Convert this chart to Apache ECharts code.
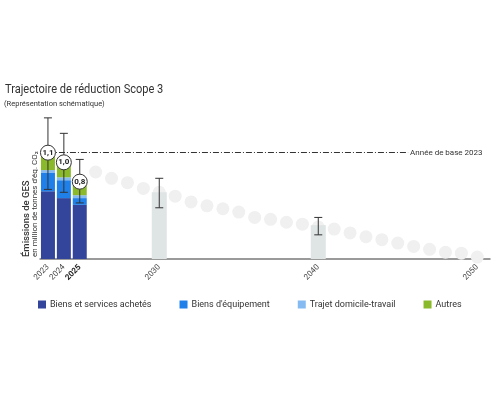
<!DOCTYPE html>
<html><head><meta charset="utf-8">
<script src="https://cdn.jsdelivr.net/npm/echarts@6/dist/echarts.min.js"></script>
<style>html,body{margin:0;padding:0;background:#fff}#c{width:500px;height:400px}</style>
</head><body><div id="c"></div>
<script>
// ---- data ----
const years = [2023, 2024, 2025];
const biensServices = [0.70, 0.63, 0.56];
const biensEquipement = [0.19, 0.185, 0.07];
const trajet = [0.03, 0.03, 0.03];
const autres = [0.18, 0.155, 0.14];
const totals = [1.1, 1.0, 0.8];
const errLow = [0.72, 0.69, 0.58];
const errHigh = [1.46, 1.30, 1.03];
const targetYears = [2030, 2040];
const targetValues = [0.69, 0.35];
const targetErrLow = [0.53, 0.25];
const targetErrHigh = [0.835, 0.43];
const pathYears = [2026,2027,2028,2029,2030,2031,2032,2033,2034,2035,2036,2037,2038,2039,2040,2041,2042,2043,2044,2045,2046,2047,2048,2049,2050];
const pathValues = [0.90,0.835,0.79,0.73,0.69,0.65,0.59,0.55,0.52,0.485,0.43,0.41,0.38,0.36,0.33,0.31,0.27,0.23,0.20,0.165,0.13,0.10,0.07,0.06,0.02];
const tickYears = [2023, 2024, 2025, 2030, 2040, 2050];
const baseYearValue = 1.1;
const baseLineEnd = 2045.65;
const seriesNames = ['Biens et services achetés', "Biens d'équipement", 'Trajet domicile-travail', 'Autres'];
const titleText = 'Trajectoire de réduction Scope 3';
const subtitleText = '(Représentation schématique)';
const axisName1 = 'Émissions de GES';
const axisName2 = "en million de tonnes d'éq. CO₂";
const baseLabel = 'Année de base 2023';

const FONT = 'Roboto';
const colors = ['#33459b', '#1f80ea', '#85bbf1', '#8bb92c'];
const pair = (xs, ys) => xs.map((x, i) => [x, ys[i]]);

const errData = pair(years, errLow).map((d, i) => [d[0], d[1], errHigh[i]])
  .concat(pair(targetYears, targetErrLow).map((d, i) => [d[0], d[1], targetErrHigh[i]]));

// axis geometry: value axis from 2022.5 to 2050.8 over the main grid
const X_MIN = 2022.5, X_MAX = 2050.8, G_LEFT = 40, G_RIGHT = 10;
const pxPerYear = (500 - G_LEFT - G_RIGHT) / (X_MAX - X_MIN);

const chart = echarts.init(document.getElementById('c'));
const stackSeries = [biensServices, biensEquipement, trajet, autres].map((arr, i) => ({
  name: seriesNames[i], type: 'bar', stack: 'tot', barWidth: 14,
  xAxisIndex: 1, yAxisIndex: 1,
  data: arr, itemStyle: { color: colors[i] }, z: 3
}));

chart.setOption({
  animation: false,
  legend: {
    data: seriesNames, left: 33, top: 295, itemWidth: 8, itemHeight: 8, itemGap: 28, icon: 'rect',
    textStyle: { fontFamily: FONT, fontSize: 9, color: '#333', padding: [0, 0, 0, -1] }
  },
  grid: [
    { left: G_LEFT, right: G_RIGHT, top: 114, bottom: 141 },
    { left: G_LEFT, width: pxPerYear * years.length, top: 114, bottom: 141 }
  ],
  xAxis: [{
    type: 'value', min: X_MIN, max: X_MAX,
    axisLine: { show: true, lineStyle: { color: '#7a7a7a', width: 1.5 } },
    axisTick: { show: false }, splitLine: { show: false },
    axisLabel: {
      customValues: tickYears, rotate: 45, fontSize: 8, fontFamily: FONT, color: '#444', margin: 7,
      formatter: v => v === 2025 ? '{b|' + v + '}' : String(v),
      rich: { b: { fontWeight: 'bold', fontSize: 8, fontFamily: FONT, color: '#222' } }
    }
  }, {
    type: 'category', gridIndex: 1, data: years, boundaryGap: true, show: false
  }],
  yAxis: [
    { type: 'value', min: 0, max: 1.5, show: false, splitLine: { show: false } },
    { type: 'value', gridIndex: 1, min: 0, max: 1.5, show: false, splitLine: { show: false } }
  ],
  graphic: [
    { type: 'text', x: 5, y: 90, scaleX: 0.85,
      style: { text: titleText, font: '13px ' + FONT, fill: '#333', textAlign: 'left', textVerticalAlign: 'middle' } },
    { type: 'text', x: 4, y: 104,
      style: { text: subtitleText, font: '7.5px ' + FONT, fill: '#333', textAlign: 'left', textVerticalAlign: 'middle' } },
    { type: 'text', x: 27, y: 257, rotation: Math.PI / 2,
      style: { text: axisName1, font: '500 9.5px ' + FONT, fill: '#333', textAlign: 'left', textVerticalAlign: 'middle' } },
    { type: 'text', x: 35, y: 257, rotation: Math.PI / 2,
      style: { text: axisName2, font: '8px ' + FONT, fill: '#333', textAlign: 'left', textVerticalAlign: 'middle' } }
  ],
  series: [
    { type: 'scatter', data: pair(pathYears, pathValues), symbolSize: 13, z: 1, silent: true,
      itemStyle: { color: '#f0f0f0', opacity: 1 },
      markLine: {
        silent: true, symbol: 'none', z: 1,
        lineStyle: { color: '#333', width: 1, type: [6, 2, 1, 2] },
        label: { show: true, position: 'end', formatter: baseLabel, fontSize: 8, fontFamily: FONT, color: '#333', distance: 2 },
        data: [[{ coord: [years[0], baseYearValue] }, { coord: [baseLineEnd, baseYearValue] }]]
      } },
    ...stackSeries,
    { type: 'bar', data: pair(targetYears, targetValues), barWidth: 15, z: 3,
      itemStyle: { color: '#dfe4e4' } },
    { type: 'custom', z: 5, silent: true, data: errData,
      renderItem: (params, api) => {
        const x = api.value(0);
        const lo = api.coord([x, api.value(1)]);
        const hi = api.coord([x, api.value(2)]);
        const w = 4;
        const st = { stroke: '#333', lineWidth: 1 };
        return { type: 'group', children: [
          { type: 'line', shape: { x1: lo[0], y1: lo[1], x2: hi[0], y2: hi[1] }, style: st },
          { type: 'line', shape: { x1: lo[0] - w, y1: lo[1], x2: lo[0] + w, y2: lo[1] }, style: st },
          { type: 'line', shape: { x1: hi[0] - w, y1: hi[1], x2: hi[0] + w, y2: hi[1] }, style: st }
        ]};
      } },
    { type: 'scatter', z: 6, silent: true, data: pair(years, totals), symbolSize: 15,
      itemStyle: { color: '#fff', borderColor: '#333', borderWidth: 1, opacity: 1 },
      label: { show: true, position: 'inside', fontFamily: FONT, fontSize: 8, fontWeight: 'bold', color: '#222',
        formatter: p => p.value[1].toFixed(1).replace('.', ',') } }
  ]
});
</script></body></html>
